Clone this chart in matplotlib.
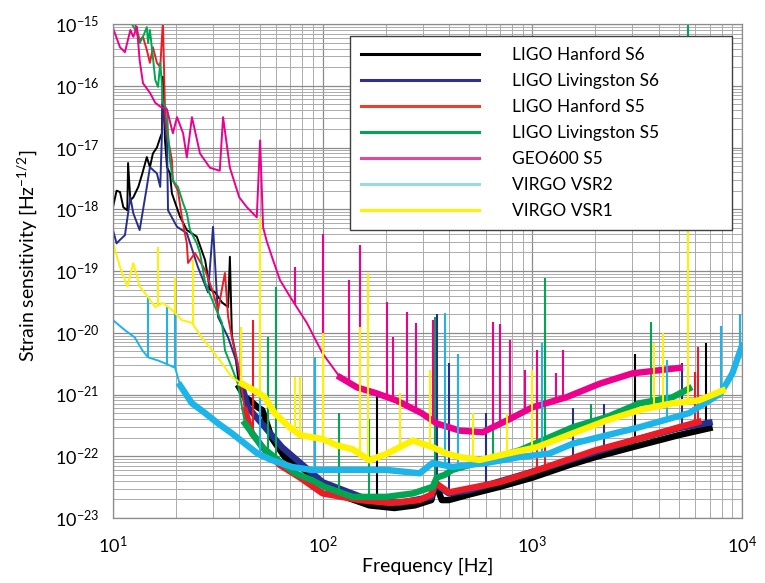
import numpy as np
import matplotlib
matplotlib.use('Agg')
import matplotlib.pyplot as plt
from matplotlib.lines import Line2D
from matplotlib.ticker import LogLocator, FuncFormatter, NullFormatter

plt.rcParams['font.family'] = ['Lato', 'DejaVu Sans']
plt.rcParams['mathtext.fontset'] = 'custom'
plt.rcParams['mathtext.rm'] = 'Lato'
plt.rcParams['mathtext.it'] = 'Lato:italic'
plt.rcParams['mathtext.bf'] = 'Lato:bold'

freq_ticks = [10, 100, 1000, 10000]
strain_ticks = [1e-23, 1e-22, 1e-21, 1e-20, 1e-19, 1e-18, 1e-17, 1e-16, 1e-15]

# --- LIGO Hanford S6 ---
h1s6_f = [10, 10.4, 10.8, 11.2, 11.7, 11.8, 12.1, 12.5, 13.2, 13.8, 14.5, 15.0, 15.5, 16.2, 16.8,
          17.1, 17.3, 17.7, 18.1, 18.7, 19.1, 20.9, 22.5, 25.1, 27.5, 29.0, 30.7, 33.1, 35.4, 36.1,
          36.9, 38.2, 40, 42.6, 45, 49, 51.5, 53, 57, 66, 82, 100, 128, 167,
          220, 275, 330, 345, 370, 400, 500, 700, 1000, 1500, 2000, 3000, 5000, 7000]
h1s6_h = [1.08e-18, 2.0e-18, 1.9e-18, 1.08e-18, 0.96e-18, 5.6e-18, 1.4e-18, 1.56e-18, 2.3e-18, 3.8e-18,
          7e-18, 4.8e-18, 8e-18, 1e-17, 1.45e-17, 1.7e-17, 1.4e-16, 1.3e-17, 4.8e-18, 3.8e-18,
          1.8e-18, 7.5e-19, 4.6e-19, 3.6e-19, 1.5e-19, 5e-20, 4.5e-20, 3.1e-20, 2.6e-20, 1.7e-19,
          9e-21, 5e-21, 1.3e-21, 9e-22, 8e-22, 6.2e-22, 5.6e-22, 4.3e-22, 2e-22,
          9.7e-23, 6e-23, 3.4e-23, 2.2e-23, 1.6e-23, 1.45e-23, 1.6e-23, 1.95e-23, 3.7e-23, 1.95e-23,
          1.95e-23, 2.4e-23, 3.2e-23, 4.5e-23, 7.2e-23, 9.7e-23, 1.4e-22, 2.2e-22, 2.85e-22]
h1s6_spike_f = [60, 181, 3100, 6700]
h1s6_spike_h = [2.5e-22, 1.15e-21, 4.6e-21, 6.7e-21]

# --- LIGO Livingston S6 ---
l1s6_f = [10, 10.4, 10.8, 11.4, 12.1, 12.5, 13.4, 14.5, 15.0, 16.2, 16.8, 17.3, 18.1, 18.3, 20.2,
          22.5, 25.4, 28.4, 30, 31.7, 35.4, 38.2, 41.2, 44, 64, 100, 167, 233, 330, 345,
          400, 500, 1000, 2000, 3000, 5000, 7000]
l1s6_h = [4.6e-19, 2.8e-19, 3.2e-19, 3.8e-19, 1.56e-18, 8.6e-19, 4.6e-19, 2.3e-18, 4.8e-18, 3.8e-18,
          2.3e-18, 5.2e-17, 1.16e-17, 9.6e-19, 5.2e-19, 4.1e-19, 1.16e-19, 4.5e-20, 5.2e-19, 1.8e-20,
          8.4e-21, 4e-21, 1.4e-21, 6.2e-22, 1.4e-22, 3.8e-23, 1.95e-23, 1.75e-23, 2.2e-23, 3.5e-23,
          2.5e-23, 2.8e-23, 5.6e-23, 1.16e-22, 1.8e-22, 2.85e-22, 3.5e-22]
l1s6_spike_f = [350, 402, 600, 1560, 2200, 5200]
l1s6_spike_h = [2e-20, 3.2e-21, 5e-22, 6e-22, 7e-22, 3.2e-21]

# --- LIGO Hanford S5 ---
h1s5_f = [12.7, 13.4, 13.9, 14.5, 15.0, 15.5, 16.2, 16.8, 17.3, 17.7, 18.1, 19.1, 19.3, 20.4, 21.3,
          22.5, 22.8, 24.6, 27.5, 29.7, 31.7, 34.2, 35.4, 36.9, 39.4, 42.6, 46, 49, 53, 62.5,
          78, 100, 150, 210, 290, 330, 345, 400, 700, 1000, 2000, 3000, 5000, 6200]
h1s5_h = [1.05e-15, 5.5e-16, 6.2e-16, 3.8e-16, 2.35e-16, 4.2e-16, 2.35e-16, 2e-16, 1.1e-15, 4.1e-17,
          1.7e-17, 6.2e-18, 2.9e-18, 2e-18, 7.4e-19, 2.8e-19, 1.35e-19, 1.95e-19, 1.04e-19, 5e-20,
          2.35e-20, 9.3e-20, 1.8e-20, 8.4e-21, 3.2e-21, 5.6e-22, 2.35e-22, 1.8e-22, 1.25e-22, 7.2e-23,
          4.5e-23, 2.5e-23, 1.95e-23, 1.75e-23, 1.95e-23, 2.4e-23, 3.7e-23, 2.6e-23, 3.8e-23, 5.6e-23,
          1.25e-22, 1.8e-22, 2.95e-22, 3.6e-22]
h1s5_spike_f = [46.6, 1050, 1150, 6000, 6200]
h1s5_spike_h = [1.6e-20, 1.5e-21, 4.6e-20, 2.3e-21, 5.8e-21]

# --- LIGO Livingston S5 ---
l1s5_f = [12.2, 13.0, 13.4, 13.9, 14.5, 14.7, 15.0, 15.5, 15.9, 16.4, 16.8, 17.1, 17.3, 18.1, 18.3,
          18.7, 19.3, 20.4, 21.6, 22.5, 23.3, 25.1, 26, 27.5, 30.7, 33.1, 34.2, 36.9, 39.4, 42.6,
          51.5, 61.2, 74, 89, 102, 139, 202, 269, 335, 350, 382, 415, 606, 870, 1560,
          2260, 3240, 4650, 5600]
l1s5_h = [1.05e-15, 7.2e-16, 4.9e-16, 6.2e-16, 8.9e-16, 4.9e-16, 8e-16, 2.9e-16, 1.25e-16, 9.6e-17,
          2.35e-16, 1.1e-16, 5.3e-17, 4.1e-17, 1.7e-17, 6.2e-18, 2.9e-18, 2.3e-18, 1.25e-18, 8.6e-19,
          4.6e-19, 2.8e-19, 1.95e-19, 6.5e-20, 2.6e-20, 1.45e-20, 5.2e-21, 2.7e-21, 1.5e-21, 3.4e-22,
          1.4e-22, 8.7e-23, 5.3e-23, 4.1e-23, 3.2e-23, 2.2e-23, 2.2e-23, 2.5e-23, 3.2e-23, 4.5e-23,
          5e-23, 6e-23, 8.7e-23, 1.25e-22, 2.95e-22, 4.3e-22, 7.2e-22, 9e-22, 1.25e-21]
l1s5_spike_f = [55, 60, 120, 167, 345, 650, 1150, 1900, 3700, 5500]
l1s5_spike_h = [8.4e-21, 5.5e-20, 5e-22, 4e-22, 1.8e-20, 6e-22, 7.8e-20, 7e-22, 1.5e-20, 1.1e-15]

# --- GEO600 S5 ---
geo_f = [10, 10.8, 11.4, 12.1, 12.5, 13.0, 13.4, 13.9, 15.0, 15.9, 16.8, 18.1, 19.3, 20.2, 21.6,
         22.5, 23.8, 26, 29, 32.3, 33.5, 36.1, 40, 43.5, 48.5, 50.3, 52, 54, 58, 62.5,
         70, 84, 100, 121, 146, 180, 225, 296, 350, 450, 580, 757, 1000,
         1450, 2100, 3000, 5050]
geo_h = [8.6e-16, 4.2e-16, 3.5e-16, 8e-16, 6.2e-16, 9e-16, 2.6e-16, 1.1e-16, 7.7e-17, 5.3e-17,
         4.6e-17, 4.1e-17, 1.7e-17, 3.1e-17, 1.7e-17, 6.9e-18, 3.1e-17, 8e-18, 4.7e-18, 4.2e-18,
         3.1e-17, 4.7e-18, 1.56e-18, 1.08e-18, 7.4e-19, 1.3e-17, 5.1e-19, 3.1e-19, 1.5e-19, 7.2e-20,
         3.8e-20, 1.45e-20, 4.6e-21, 1.9e-21, 1.3e-21, 1.05e-21, 8e-22, 5e-22, 3.4e-22, 2.6e-22,
         2.45e-22, 3.8e-22, 6.2e-22, 9e-22, 1.5e-21, 2.2e-21, 2.7e-21]
geo_spike_f = [74, 100, 134, 150, 202, 216, 252, 280, 335, 650, 700, 780, 920, 1050, 1300, 1400]
geo_spike_h = [1.16e-19, 4e-19, 7.2e-20, 2.6e-19, 3.1e-20, 8.4e-21, 2.2e-20, 1.45e-20, 1.6e-20,
               1.5e-20, 1.4e-20, 7.5e-21, 2.45e-21, 5.2e-21, 2.2e-21, 5.2e-21]

# --- VIRGO VSR2 ---
vsr2_f = [10, 11.4, 12.7, 13.8, 14.7, 16.4, 17.7, 19.8, 20.9, 23.8, 27.5, 31.7, 36.9, 42.6, 49,
          57, 71.5, 89, 139, 202, 290, 335, 415, 606, 870, 1200, 1560, 3240, 5600, 7900,
          9000, 10000]
vsr2_h = [1.6e-20, 1.1e-20, 8.4e-21, 5.2e-21, 4e-21, 3.55e-21, 3.2e-21, 2.7e-21, 1.4e-21, 7.2e-22,
          5e-22, 3.4e-22, 2.35e-22, 1.6e-22, 1.1e-22, 8.7e-23, 6.7e-23, 6e-23, 6e-23, 6e-23,
          5.3e-23, 7.8e-23, 6.7e-23, 7.8e-23, 9.7e-23, 1.1e-22, 1.6e-22, 2.95e-22, 5e-22, 1.04e-21,
          2.2e-21, 6.2e-21]
vsr2_spike_f = [14.7, 18.1, 19.8, 50, 92, 382, 440, 1110, 4400, 7900, 9800]
vsr2_spike_h = [3.8e-20, 2.6e-20, 3.1e-20, 1.1e-21, 4e-21, 2.1e-20, 4.6e-21, 6.7e-21, 3.6e-21, 1.3e-20, 2e-20]

# --- VIRGO VSR1 ---
vsr1_f = [10, 10.8, 11.7, 12.5, 13.4, 14.7, 15.9, 17.3, 19.1, 21.3, 23.8, 26.5, 29.7, 33.1, 36.9,
          41.2, 48.5, 53, 59, 70, 78, 100, 117, 139, 167, 202, 233, 269, 335, 390, 450,
          560, 757, 1050, 1560, 2260, 3240, 4650, 6200, 8100]
vsr1_h = [2.85e-19, 1.16e-19, 5.6e-20, 1.35e-19, 5.6e-20, 3.8e-20, 2.6e-20, 3.05e-20, 2.35e-20, 1.6e-20,
          1.45e-20, 8.4e-21, 5.2e-21, 3.2e-21, 1.9e-21, 1.5e-21, 1.1e-21, 9e-22, 5e-22, 2.9e-22,
          2.2e-22, 1.9e-22, 1.5e-22, 1.3e-22, 8.6e-23, 1.1e-22, 1.4e-22, 1.8e-22, 1.4e-22, 1.1e-22,
          9.7e-23, 8.7e-23, 1.1e-22, 1.4e-22, 2.35e-22, 3.8e-22, 5.6e-22, 7.2e-22, 8e-22, 1.16e-21]
vsr1_spike_f = [16.4, 19.8, 24, 41, 50, 74, 78, 100, 150, 165, 233, 325, 520, 757, 1000,
                3800, 4200, 5500]
vsr1_spike_h = [2.45e-19, 8e-20, 1.5e-19, 1.25e-20, 7.4e-19, 1.9e-21, 1.9e-21, 1e-20, 1.25e-20,
                9.3e-20, 1.04e-21, 2.45e-21, 5e-22, 5e-22, 2.45e-21, 6.9e-21, 1e-20, 4.6e-19]

# label, line colour, legend colour, curve, spikes, frequency where the noisy band starts
curves = [
    ('LIGO Hanford S6', '#000000', '#000000', h1s6_f, h1s6_h, h1s6_spike_f, h1s6_spike_h, 40),
    ('LIGO Livingston S6', '#262e8f', '#2e3192', l1s6_f, l1s6_h, l1s6_spike_f, l1s6_spike_h, 40),
    ('LIGO Hanford S5', '#ed1c24', '#e8412c', h1s5_f, h1s5_h, h1s5_spike_f, h1s5_spike_h, 40),
    ('LIGO Livingston S5', '#00a651', '#00a651', l1s5_f, l1s5_h, l1s5_spike_f, l1s5_spike_h, 40),
    ('GEO600 S5', '#ec008c', '#e6479a', geo_f, geo_h, geo_spike_f, geo_spike_h, 110),
    ('VIRGO VSR2', '#1cb5ea', '#99d9ea', vsr2_f, vsr2_h, vsr2_spike_f, vsr2_spike_h, 20),
    ('VIRGO VSR1', '#fff200', '#fff200', vsr1_f, vsr1_h, vsr1_spike_f, vsr1_spike_h, 40),
]
draw_order = [4, 0, 1, 2, 3, 5, 6]

fig = plt.figure(figsize=(7.65, 5.83), dpi=100)
ax = fig.add_axes([113 / 765, 65 / 583, 629 / 765, 494 / 583])
ax.set_xscale('log')
ax.set_yscale('log')

for i in draw_order:
    label, color, lcolor, f, h, sf, sh, band_from = curves[i]
    f = np.asarray(f)
    h = np.asarray(h)
    z = 2 + i * 0.01
    ax.plot(f, h, color=color, lw=1.4, zorder=z)
    thick = f >= band_from
    ax.plot(f[thick], h[thick], color=color, lw=4.6, zorder=z)
    # narrow lines stick up from the curve
    foot = 10 ** np.interp(np.log10(sf), np.log10(f), np.log10(h))
    ax.vlines(sf, foot, sh, color=color, lw=1.5, zorder=z)

ax.set_xlim(10, 1e4)
ax.set_ylim(1e-23, 1e-15)
ax.set_xticks(freq_ticks)
ax.set_yticks(strain_ticks)
for axis in (ax.xaxis, ax.yaxis):
    axis.set_minor_locator(LogLocator(base=10, subs=np.arange(2, 10), numticks=200))
    axis.set_major_formatter(FuncFormatter(lambda v, p: r'$10^{%d}$' % round(np.log10(v))))
    axis.set_minor_formatter(NullFormatter())

ax.grid(which='major', color='#8c8c8c', lw=0.9)
ax.grid(which='minor', color='#ababab', lw=0.7)
ax.set_axisbelow(True)
ax.tick_params(which='both', length=0, labelsize=13)
ax.tick_params(axis='x', pad=12)
ax.tick_params(axis='y', pad=10)
for s in ax.spines.values():
    s.set_color('#8c8c8c')
    s.set_linewidth(0.9)

ax.set_xlabel('Frequency [Hz]', fontsize=14)
ax.xaxis.set_label_coords(0.5, -0.08)
ax.set_ylabel('Strain sensitivity [Hz$^{-1/2}$]', fontsize=14)
ax.yaxis.set_label_coords(-0.118, 0.53)

handles = [Line2D([], [], color=c[2], lw=2.2) for c in curves]
labels = [c[0] for c in curves]
leg = ax.legend(handles, labels, loc='upper left', bbox_to_anchor=(0.377, 0.976, 0.607, 0),
                mode='expand', borderaxespad=0, handlelength=6.8, handletextpad=1.9,
                labelspacing=0.58, borderpad=0.63, fontsize=12.5, frameon=True,
                fancybox=False, edgecolor='#404040', framealpha=1)
leg.get_frame().set_linewidth(1.0)

fig.savefig('out.png', dpi=100)
